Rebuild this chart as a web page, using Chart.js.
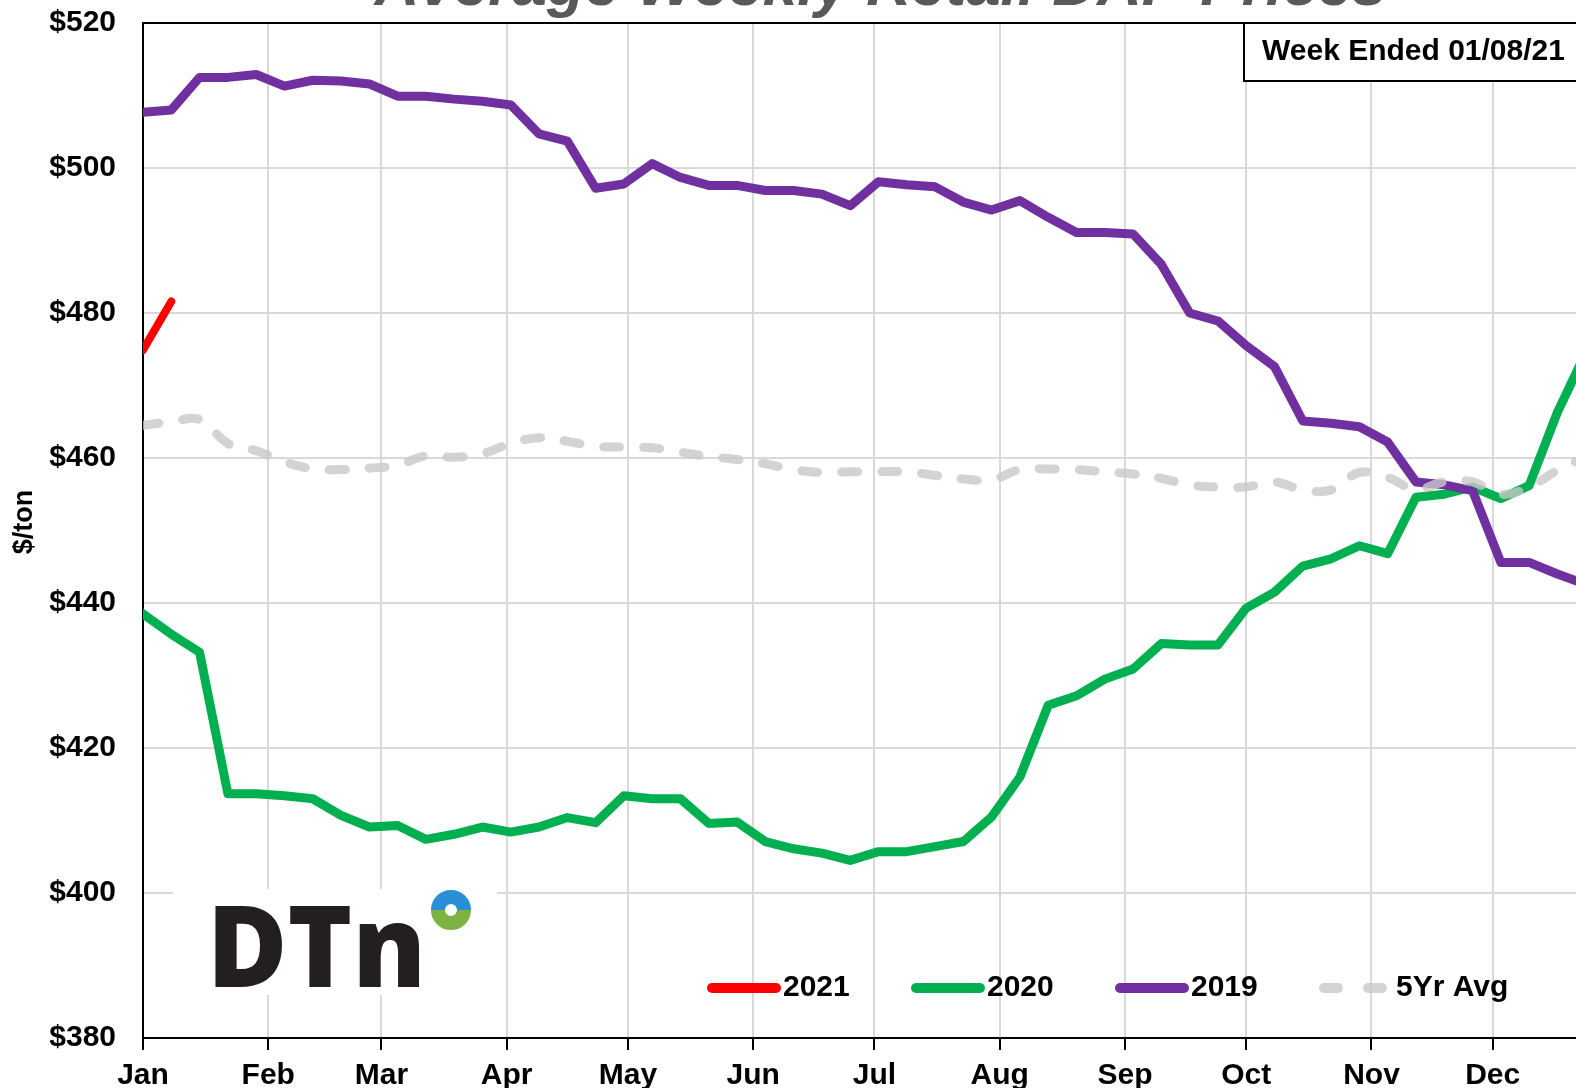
<!DOCTYPE html>
<html>
<head>
<meta charset="utf-8">
<script src="https://cdn.jsdelivr.net/npm/chart.js@4.4.0/dist/chart.umd.min.js"></script>
<style>
html, body { margin: 0; padding: 0; background: #fff; overflow: hidden; width: 1576px; height: 1088px; }
#wrap { position: absolute; left: 0; top: -40px; width: 1660px; height: 1128px; }
</style>
</head>
<body>
<div id="wrap"><canvas id="dapChart" width="1660" height="1128"></canvas></div>
<script>
const ctx = document.getElementById("dapChart").getContext("2d");

// month ticks (day of year)
const monthStarts = [0, 31, 59, 90, 120, 151, 181, 212, 243, 273, 304, 334];
const monthNames = ["Jan", "Feb", "Mar", "Apr", "May", "Jun", "Jul", "Aug", "Sep", "Oct", "Nov", "Dec"];

// weekly retail DAP, $/ton
const price2021 = [474.9, 481.6];
const price2020 = [
    438.5, 435.7, 433.2, 413.7, 413.7, 413.4, 413.0, 410.7, 409.1, 409.3,
    407.4, 408.1, 409.1, 408.4, 409.1, 410.4, 409.7, 413.4, 413.0, 413.0,
    409.6, 409.8, 407.1, 406.1, 405.5, 404.5, 405.7, 405.7, 406.4, 407.1,
    410.5, 416.0, 425.9, 427.2, 429.5, 430.9, 434.4, 434.2, 434.2, 439.3,
    441.5, 445.1, 446.1, 447.9, 446.8, 454.6, 455.0, 456.0, 454.4, 456.2,
    466.3, 474.5
];
const price2019 = [
    507.7, 508.0, 512.5, 512.5, 512.9, 511.3, 512.1, 512.0, 511.6, 509.9,
    509.9, 509.5, 509.2, 508.7, 504.7, 503.7, 497.2, 497.8, 500.6, 498.7,
    497.6, 497.6, 496.9, 496.9, 496.4, 494.8, 498.1, 497.7, 497.4, 495.3,
    494.2, 495.5, 493.2, 491.1, 491.1, 490.9, 486.7, 480.0, 478.9, 475.5,
    472.6, 465.1, 464.8, 464.3, 462.2, 456.7, 456.3, 455.5, 445.6, 445.6,
    444.0, 442.6
];
const avg5yr = [
    464.5, 465.0, 465.3, 462.0, 461.0, 459.5, 458.5, 458.4, 458.6, 459.0,
    460.3, 460.1, 460.6, 462.0, 462.8, 462.3, 461.6, 461.5, 461.4, 460.8,
    460.2, 459.8, 459.2, 458.4, 458.0, 458.1, 458.1, 458.1, 457.6, 457.1,
    457.0, 458.4, 458.5, 458.4, 458.1, 457.8, 457.2, 456.3, 456.0, 456.0,
    456.7, 455.6, 455.6, 458.0, 457.3, 455.7, 456.7, 456.7, 455.0, 456.0,
    458.3, 460.1
];

// one point per week
const toPoints = arr => arr.map((v, i) => ({ x: i * 7, y: v }));

const FONT = "'Liberation Sans', Arial, sans-serif";

const extras = {
    id: "extras",
    beforeDatasetsDraw(chart) {
        const c = chart.ctx;
        const y400 = chart.scales.y.getPixelForValue(400);
        // logo patch
        c.save();
        c.fillStyle = "#fff";
        c.fillRect(173, y400 - 4, 324, 106);
        c.restore();
    },
    afterDraw(chart) {
        const c = chart.ctx;
        const a = chart.chartArea;
        c.save();

        // top frame
        c.strokeStyle = "#000";
        c.lineWidth = 2;
        c.beginPath();
        c.moveTo(a.left, a.top);
        c.lineTo(a.right, a.top);
        c.stroke();

        // title (cut off by the page top)
        c.fillStyle = "#595959";
        c.font = "italic bold 62px " + FONT;
        c.textAlign = "center";
        c.textBaseline = "alphabetic";
        c.fillText("Average Weekly Retail DAP Prices", (a.left + a.right) / 2, 45);

        // y title
        c.save();
        c.translate(25, 562);
        c.rotate(-Math.PI / 2);
        c.fillStyle = "#000";
        c.font = "bold 27px " + FONT;
        c.textAlign = "center";
        c.textBaseline = "middle";
        c.fillText("$/ton", 0, 0);
        c.restore();

        // week ended box
        c.fillStyle = "#fff";
        c.fillRect(1244, a.top, a.right - 1244, 58);
        c.strokeStyle = "#000";
        c.lineWidth = 2;
        c.strokeRect(1244, a.top, a.right - 1244, 58);
        c.fillStyle = "#000";
        c.font = "bold 30px " + FONT;
        c.textAlign = "left";
        c.textBaseline = "middle";
        c.fillText("Week Ended 01/08/21", 1262, a.top + 29);

        // DTN logo
        c.fillStyle = "#231f20";
        c.font = "800 114px 'Open Sans', " + FONT;
        c.textAlign = "left";
        c.textBaseline = "alphabetic";
        const w = c.measureText("DTn").width;
        c.save();
        c.translate(207, 1027);
        c.scale(219 / w, 1);
        c.fillText("DTn", 0, 0);
        c.restore();
        c.lineWidth = 14;
        c.strokeStyle = "#2a8fd6";
        c.beginPath();
        c.arc(451, 950, 13, Math.PI, 2 * Math.PI);
        c.stroke();
        c.strokeStyle = "#7cb342";
        c.beginPath();
        c.arc(451, 950, 13, 0, Math.PI);
        c.stroke();

        // legend
        const starts = [708, 912, 1116, 1320];
        const ly = 1028;
        chart.data.datasets.forEach((ds, i) => {
            const x0 = starts[i];
            c.strokeStyle = ds.borderColor;
            c.lineWidth = 10;
            c.lineCap = "round";
            c.setLineDash(ds.borderDash ? [14, 30] : []);
            c.beginPath();
            c.moveTo(x0 + 4, ly);
            c.lineTo(x0 + 68, ly);
            c.stroke();
            c.setLineDash([]);
            c.fillStyle = "#000";
            c.font = "bold 30px " + FONT;
            c.textBaseline = "middle";
            c.fillText(ds.label, x0 + (ds.borderDash ? 76 : 75), ly);
        });
        c.restore();
    }
};

new Chart(ctx, {
    type: "line",
    data: {
        datasets: [
            { label: "2021", data: toPoints(price2021), borderColor: "#ff0000", borderWidth: 8, order: 0 },
            { label: "2020", data: toPoints(price2020), borderColor: "#00b050", borderWidth: 9, order: 3 },
            { label: "2019", data: toPoints(price2019), borderColor: "#7030a0", borderWidth: 9, order: 2 },
            {
                label: "5Yr Avg", data: toPoints(avg5yr), borderColor: "rgba(200,200,200,0.8)",
                borderWidth: 9, borderDash: [16, 24], tension: 0.4, order: 1
            }
        ]
    },
    options: {
        responsive: false,
        animation: false,
        layout: { padding: { top: 63, right: 42, left: 0, bottom: 0 } },
        elements: {
            point: { radius: 0 },
            line: { borderCapStyle: "round", borderJoinStyle: "round" }
        },
        plugins: { legend: { display: false }, tooltip: { enabled: false } },
        scales: {
            x: {
                type: "linear",
                min: 0,
                max: 365,
                afterBuildTicks: s => { s.ticks = monthStarts.map(v => ({ value: v })); },
                afterFit: s => { s.height = 50; },
                grid: { color: "#d9d9d9", lineWidth: 2, tickLength: 12, tickColor: "#000", tickWidth: 2 },
                border: { color: "#000", width: 2 },
                ticks: {
                    color: "#000",
                    font: { family: FONT, size: 30, weight: "bold" },
                    padding: 8,
                    maxRotation: 0,
                    autoSkip: false,
                    callback: (v, i) => monthNames[i]
                }
            },
            y: {
                min: 380,
                max: 520,
                afterFit: s => { s.width = 143; },
                grid: { color: "#d9d9d9", lineWidth: 2, drawTicks: false },
                border: { color: "#000", width: 2 },
                ticks: {
                    stepSize: 20,
                    color: "#000",
                    padding: 27,
                    font: { family: FONT, size: 30, weight: "bold" },
                    callback: v => "$" + v
                }
            }
        }
    },
    plugins: [extras]
});
</script>
</body>
</html>
